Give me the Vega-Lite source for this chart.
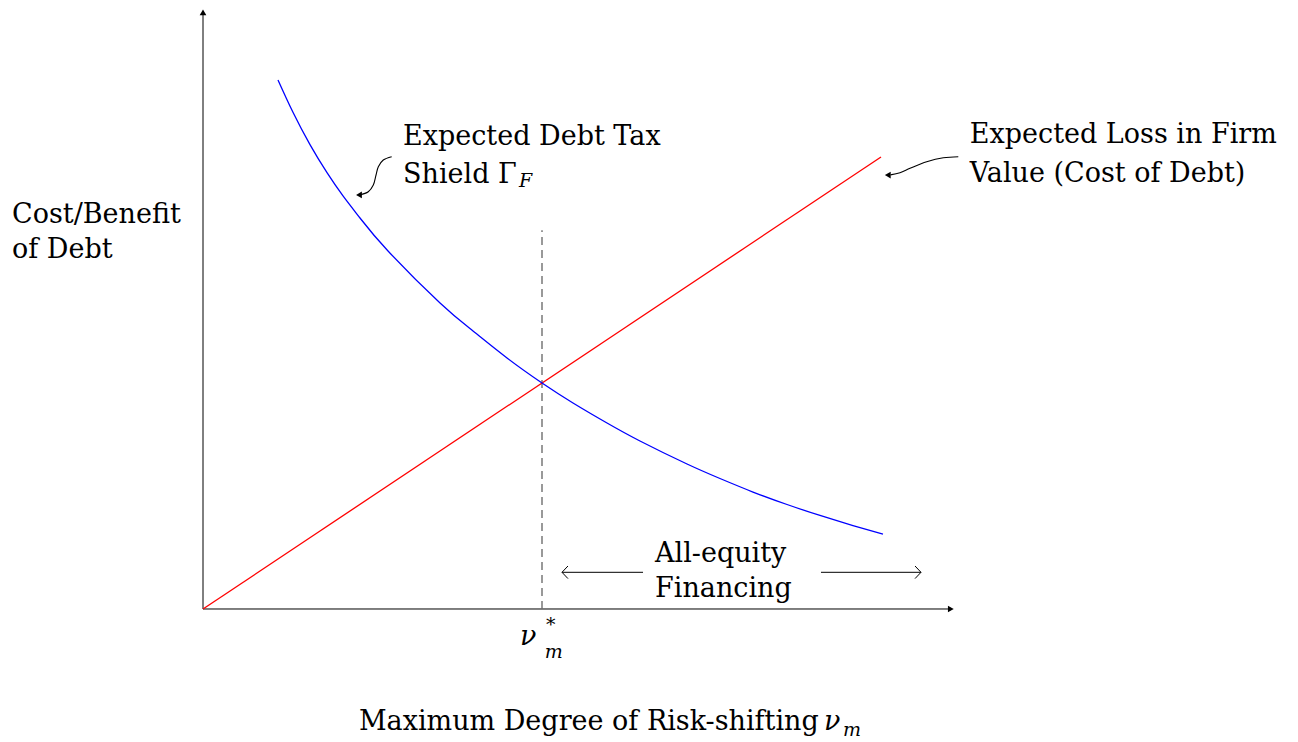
{
  "$schema": "https://vega.github.io/schema/vega-lite/v6.json",
  "width": 1298,
  "height": 742,
  "padding": 0,
  "autosize": {"type": "fit", "contains": "padding"},
  "background": "white",
  "config": {"view": {"stroke": null}, "text": {"font": "DejaVu Serif", "fontSize": 27, "color": "black"}},
  "datasets": {
    "blue": [
      {"x": 1.106, "y": 11.704}, {"x": 1.327, "y": 10.989}, {"x": 1.578, "y": 10.274}, {"x": 1.829, "y": 9.653},
      {"x": 2.065, "y": 9.139}, {"x": 2.316, "y": 8.65}, {"x": 2.729, "y": 7.92}, {"x": 3.496, "y": 6.77},
      {"x": 3.982, "y": 6.15}, {"x": 4.484, "y": 5.553}, {"x": 5.0, "y": 5.0}, {"x": 5.457, "y": 4.558},
      {"x": 5.959, "y": 4.115}, {"x": 6.445, "y": 3.717}, {"x": 7.139, "y": 3.208}, {"x": 7.625, "y": 2.887},
      {"x": 8.112, "y": 2.588}, {"x": 8.614, "y": 2.312}, {"x": 9.1, "y": 2.069}, {"x": 9.587, "y": 1.847},
      {"x": 10.029, "y": 1.659}
    ],
    "red": [{"x": 0, "y": 0}, {"x": 10.0, "y": 10.0}],
    "segs": [
      {"x": 0, "y": 0, "x2": 11.0, "y2": 0},
      {"x": 0, "y": 0, "x2": 0, "y2": 13.2},
      {"x": 5.295, "y": 0.812, "x2": 6.49, "y2": 0.812},
      {"x": 9.115, "y": 0.812, "x2": 10.59, "y2": 0.812},
      {"x": 5.295, "y": 0.812, "x2": 5.383, "y2": 0.951},
      {"x": 5.295, "y": 0.812, "x2": 5.383, "y2": 0.673},
      {"x": 10.59, "y": 0.812, "x2": 10.502, "y2": 0.951},
      {"x": 10.59, "y": 0.812, "x2": 10.502, "y2": 0.673}
    ],
    "curl": [
      {"id": "g", "i": 0, "x": 2.783, "y": 10.007}, {"id": "g", "i": 1, "x": 2.659, "y": 9.934},
      {"id": "g", "i": 2, "x": 2.586, "y": 9.785}, {"id": "g", "i": 3, "x": 2.552, "y": 9.602},
      {"id": "g", "i": 4, "x": 2.512, "y": 9.381}, {"id": "g", "i": 5, "x": 2.438, "y": 9.232},
      {"id": "g", "i": 6, "x": 2.31, "y": 9.162},
      {"id": "c", "i": 0, "x": 11.14, "y": 10.007}, {"id": "c", "i": 1, "x": 10.919, "y": 9.985},
      {"id": "c", "i": 2, "x": 10.674, "y": 9.896}, {"id": "c", "i": 3, "x": 10.428, "y": 9.75},
      {"id": "c", "i": 4, "x": 10.28, "y": 9.653}, {"id": "c", "i": 5, "x": 10.14, "y": 9.605}
    ],
    "headsLeft": [{"x": 2.3, "y": 9.16}, {"x": 10.1, "y": 9.6}],
    "headUp": [{"x": 0, "y": 13.2}],
    "headRight": [{"x": 11.03, "y": 0}],
    "labels": [
      {"x": 2.95, "y": 10.265, "text": "Expected Debt Tax"},
      {"x": 2.95, "y": 9.425, "text": "Shield Γ"},
      {"x": 11.31, "y": 10.31, "text": "Expected Loss in Firm"},
      {"x": 11.31, "y": 9.447, "text": "Value (Cost of Debt)"},
      {"x": -2.817, "y": 8.54, "text": "Cost/Benefit"},
      {"x": -2.817, "y": 7.765, "text": "of Debt"},
      {"x": 6.667, "y": 1.04, "text": "All-equity"},
      {"x": 6.667, "y": 0.265, "text": "Financing"},
      {"x": 2.3, "y": -2.677, "text": "Maximum Degree of Risk-shifting"}
    ],
    "italicBig": [
      {"x": 4.676, "y": -0.796, "text": "ν"},
      {"x": 9.16, "y": -2.677, "text": "ν"}
    ],
    "italicSmall": [
      {"x": 4.66, "y": 9.34, "text": "F"},
      {"x": 5.04, "y": -1.084, "text": "m"},
      {"x": 9.44, "y": -2.81, "text": "m"}
    ],
    "star": [{"x": 5.06, "y": -0.48, "text": "*"}]
  },
  "layer": [
    {
      "data": {"name": "segs"},
      "mark": {"type": "rule", "color": "black", "strokeWidth": 1},
      "encoding": {
        "x": {"field": "x", "type": "quantitative", "scale": {"domain": [-2.9941, 16.1504], "nice": false, "zero": false}, "axis": null},
        "y": {"field": "y", "type": "quantitative", "scale": {"domain": [-2.9425, 13.4735], "nice": false, "zero": false}, "axis": null},
        "x2": {"field": "x2"},
        "y2": {"field": "y2"}
      }
    },
    {
      "data": {"values": [{"x": 5, "y": 0, "y2": 8.38}]},
      "mark": {"type": "rule", "color": "#6e6e6e", "strokeWidth": 1.4, "strokeDash": [8, 5]},
      "encoding": {
        "x": {"field": "x", "type": "quantitative"},
        "y": {"field": "y", "type": "quantitative"},
        "y2": {"field": "y2"}
      }
    },
    {
      "data": {"name": "red"},
      "mark": {"type": "line", "color": "#ff0000", "strokeWidth": 1.3},
      "encoding": {"x": {"field": "x", "type": "quantitative"}, "y": {"field": "y", "type": "quantitative"}}
    },
    {
      "data": {"name": "blue"},
      "mark": {"type": "line", "color": "#0000ff", "strokeWidth": 1.3, "interpolate": "natural"},
      "encoding": {"x": {"field": "x", "type": "quantitative"}, "y": {"field": "y", "type": "quantitative"}}
    },
    {
      "data": {"name": "curl"},
      "mark": {"type": "line", "color": "black", "strokeWidth": 1.1, "interpolate": "catmull-rom"},
      "encoding": {
        "x": {"field": "x", "type": "quantitative"},
        "y": {"field": "y", "type": "quantitative"},
        "detail": {"field": "id"},
        "order": {"field": "i"}
      }
    },
    {
      "data": {"name": "headsLeft"},
      "mark": {"type": "point", "shape": "triangle-left", "filled": true, "color": "black", "size": 45, "opacity": 1},
      "encoding": {"x": {"field": "x", "type": "quantitative"}, "y": {"field": "y", "type": "quantitative"}}
    },
    {
      "data": {"name": "headUp"},
      "mark": {"type": "point", "shape": "triangle-up", "filled": true, "color": "black", "size": 45, "opacity": 1},
      "encoding": {"x": {"field": "x", "type": "quantitative"}, "y": {"field": "y", "type": "quantitative"}}
    },
    {
      "data": {"name": "headRight"},
      "mark": {"type": "point", "shape": "triangle-right", "filled": true, "color": "black", "size": 45, "opacity": 1},
      "encoding": {"x": {"field": "x", "type": "quantitative"}, "y": {"field": "y", "type": "quantitative"}}
    },
    {
      "data": {"name": "labels"},
      "mark": {"type": "text", "align": "left", "baseline": "alphabetic", "fontSize": 27},
      "encoding": {"x": {"field": "x", "type": "quantitative"}, "y": {"field": "y", "type": "quantitative"}, "text": {"field": "text"}}
    },
    {
      "data": {"name": "italicBig"},
      "mark": {"type": "text", "align": "left", "baseline": "alphabetic", "fontSize": 27, "fontStyle": "italic"},
      "encoding": {"x": {"field": "x", "type": "quantitative"}, "y": {"field": "y", "type": "quantitative"}, "text": {"field": "text"}}
    },
    {
      "data": {"name": "italicSmall"},
      "mark": {"type": "text", "align": "left", "baseline": "alphabetic", "fontSize": 19, "fontStyle": "italic"},
      "encoding": {"x": {"field": "x", "type": "quantitative"}, "y": {"field": "y", "type": "quantitative"}, "text": {"field": "text"}}
    },
    {
      "data": {"name": "star"},
      "mark": {"type": "text", "align": "left", "baseline": "alphabetic", "fontSize": 19},
      "encoding": {"x": {"field": "x", "type": "quantitative"}, "y": {"field": "y", "type": "quantitative"}, "text": {"field": "text"}}
    }
  ]
}
